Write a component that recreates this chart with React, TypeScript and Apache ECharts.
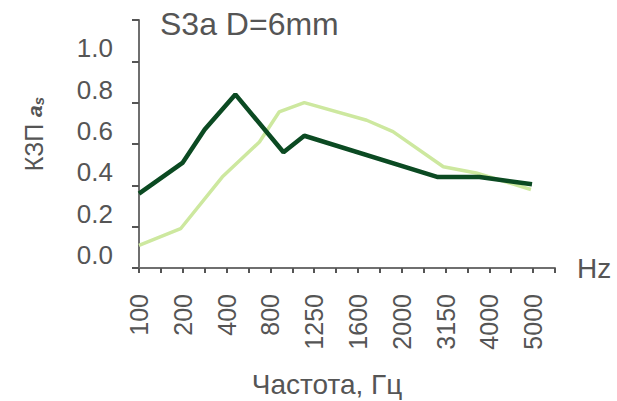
import React, { useEffect, useRef } from "react";
import * as echarts from "echarts";

// frequency tick labels (every second tick position)
const freqLabels = ["100", "200", "400", "800", "1250", "1600", "2000", "3150", "4000", "5000"];
// positions along the frequency axis (tick index units) and absorption values
const darkPos = [0, 2, 3, 4.4, 6.6, 7.55, 13.65, 15.55, 17.95];
const darkVal = [0.36, 0.51, 0.67, 0.84, 0.56, 0.64, 0.44, 0.44, 0.405];
const lightPos = [0, 1.9, 3.8, 5.5, 6.4, 7.55, 10.4, 11.6, 13.9, 15.4, 17.9];
const lightVal = [0.11, 0.19, 0.44, 0.61, 0.755, 0.8, 0.715, 0.66, 0.49, 0.46, 0.38];
const yTicks = [0, 0.2, 0.4, 0.6, 0.8, 1.0, 1.2];

const FONT = "Liberation Sans, Arial, sans-serif";
const TXT = "#555555";

export default function App() {
  const ref = useRef<HTMLDivElement>(null);
  useEffect(() => {
    if (!ref.current) return;
    const chart = echarts.init(ref.current, null, { renderer: "svg" });
    const dark = darkPos.map((p, i) => [p, darkVal[i]]);
    const light = lightPos.map((p, i) => [p, lightVal[i]]);
    chart.setOption({
      animation: false,
      backgroundColor: "#ffffff",
      textStyle: { fontFamily: FONT },
      title: {
        text: "S3a D=6mm",
        left: 155,
        top: 3,
        textStyle: { fontSize: 32, fontWeight: "normal", color: TXT, fontFamily: FONT },
      },
      grid: { left: 139, right: 62, top: 20, bottom: 133, containLabel: false },
      xAxis: {
        type: "value",
        min: 0,
        max: 19,
        interval: 1,
        name: "Hz",
        nameLocation: "end",
        nameGap: 22,
        nameTextStyle: { fontSize: 28, color: TXT, fontFamily: FONT },
        splitLine: { show: false },
        axisLine: { show: true, lineStyle: { color: "#6f6f6f", width: 2 } },
        axisTick: { show: true, length: 5, lineStyle: { color: "#555", width: 2 } },
        axisLabel: {
          rotate: 90,
          margin: 26,
          fontSize: 25,
          color: TXT,
          fontFamily: FONT,
          formatter: (v: number) => (v % 2 === 0 && freqLabels[v / 2] !== undefined ? freqLabels[v / 2] : ""),
        },
      },
      yAxis: {
        type: "value",
        min: yTicks[0],
        max: yTicks[yTicks.length - 1],
        interval: 0.2,
        splitLine: { show: false },
        axisLine: { show: true, lineStyle: { color: "#6f6f6f", width: 2 } },
        axisTick: { show: true, length: 7, lineStyle: { color: "#555", width: 2 } },
        axisLabel: {
          margin: 26,
          fontSize: 26,
          color: TXT,
          fontFamily: FONT,
          verticalAlign: "bottom",
          lineHeight: 26,
          formatter: (v: number) => (v > 1.05 ? "" : v.toFixed(1)),
        },
      },
      graphic: [
        {
          type: "text",
          x: 34,
          y: 134,
          rotation: Math.PI / 2,
          style: {
            text: "{a|КЗП }{b|a}{c|s}",
            align: "center",
            verticalAlign: "middle",
            rich: {
              a: { fontSize: 25, fill: TXT, fontFamily: FONT },
              b: { fontSize: 21, fill: TXT, fontFamily: FONT, fontWeight: "bold", fontStyle: "italic" },
              c: { fontSize: 15, fill: TXT, fontFamily: FONT, fontWeight: "bold", fontStyle: "italic", padding: [8, 0, 0, 0] },
            },
          },
        },
        {
          type: "text",
          x: 327,
          y: 384,
          style: {
            text: "Частота, Гц",
            fontSize: 28,
            fill: TXT,
            fontFamily: FONT,
            align: "center",
            verticalAlign: "middle",
          },
        },
      ],
      series: [
        {
          type: "line",
          data: light,
          symbol: "none",
          lineStyle: { color: "#cde89f", width: 3.5 },
          z: 2,
        },
        {
          type: "line",
          data: dark,
          symbol: "none",
          lineStyle: { color: "#0b4a22", width: 4.5 },
          z: 3,
        },
      ],
    });
    return () => chart.dispose();
  }, []);
  return <div ref={ref} style={{ position: "fixed", left: 0, top: 0, width: 617, height: 401 }} />;
}
